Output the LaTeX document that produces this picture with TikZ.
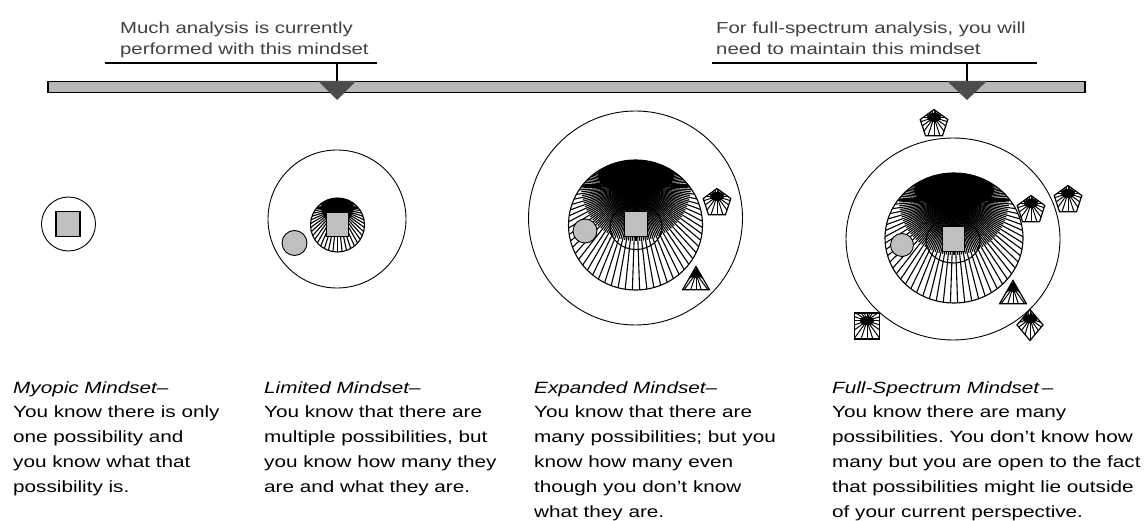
\documentclass[tikz,border=0pt]{standalone}
\usepackage{fontspec}
\newfontfamily\capfont[FakeStretch=1.27]{Liberation Sans}
\usetikzlibrary{shapes.geometric,calc}
% cx cy rx ry | convergence px py | dark ellipse rx ry | angle step ; dark ellipse centre y in \darky, dense-line length in \denselen
\newcommand{\darky}{0}
\newcommand{\denselen}{50}
\newcommand{\hatchdisc}[9]{%
  \begin{scope}
    \clip (#1,#2) ellipse [x radius=#3pt, y radius=#4pt];
    \fill[white] (#1,#2) ellipse [x radius=#3pt, y radius=#4pt];
    \foreach \a in {0,#9,...,359} \draw[line width=1.1pt] (#5,#6) -- ++(\a:170pt);
    \pgfmathsetmacro{\halfang}{#9/2}
    \pgfmathsetmacro{\nextang}{#9*1.5}
    \foreach \a in {\halfang,\nextang,...,359} \draw[line width=1.1pt] (#5,#6) -- ++(\a:\denselen pt);
    \fill[black] (#5,\darky) ellipse [x radius=#7pt, y radius=#8pt];
  \end{scope}
  \draw[line width=1.1pt] (#1,#2) ellipse [x radius=#3pt, y radius=#4pt];
}
\begin{document}
\begin{tikzpicture}[x=1pt,y=-1pt,
  topnote/.style={anchor=north west, inner sep=0, align=left, text=black!75,
    font=\capfont\fontsize{16}{21.5}\selectfont},
  caption/.style={anchor=north west, inner sep=0, align=left,
    font=\capfont\fontsize{16.3}{24.8}\selectfont\frenchspacing},
  rule/.style={line width=1.3pt},
  pointer/.style={fill=black!70, draw=none},
  barbox/.style={draw, line width=1.3pt, fill=black!28, rectangle, inner sep=0, outer sep=0},
  outerring/.style={draw, line width=0.9pt, ellipse, inner sep=0, outer sep=0},
  sq/.style={draw, line width=1.6pt, fill=black!25, rectangle, inner sep=0, outer sep=0},
  gcirc/.style={draw, line width=0.9pt, fill=black!25, circle, inner sep=0, outer sep=0},
  smallhatch/.style={draw, line width=1.2pt, fill=white, inner sep=0, outer sep=0,
    path picture={
      \coordinate (hp) at ($(path picture bounding box.north)!0.3!(path picture bounding box.south)$);
      \foreach \a in {0,18,...,342} \draw[black, line width=1pt] (hp) -- ++(\a:30pt);
      \fill[black] (hp) ellipse [x radius=7pt, y radius=4.5pt];
    }},
  pent/.style={smallhatch, regular polygon, regular polygon sides=5, minimum size=29pt},
  tri/.style={smallhatch, regular polygon, regular polygon sides=3, minimum size=31pt},
  dia/.style={smallhatch, diamond, minimum width=26pt, minimum height=31pt},
  sqh/.style={smallhatch, rectangle, minimum width=25pt, minimum height=26pt}
]
\useasboundingbox (0,0) rectangle (1146,521);

% top notes
\node[topnote] (noteL) at (120,21.3) {Much analysis is currently\\performed with this mindset};
\node[topnote] (noteR) at (716,21.3) {For full-spectrum analysis, you will\\need to maintain this mindset};

% bar
\node[barbox, minimum width=1037pt, minimum height=11pt] (bar) at (566.5,87) {};

% pointers
\coordinate (uLa) at (105,63); \coordinate (uLb) at (377,63);
\coordinate (uRa) at (712,63); \coordinate (uRb) at (1037,63);
\coordinate (pL) at (337,63); \coordinate (pR) at (967,63);
\coordinate (tL) at (337,81); \coordinate (tR) at (967,81);
\draw[rule] (uLa) -- (uLb);
\draw[rule] (uRa) -- (uRb);
\fill[pointer] ($(tL)+(-19,0)$) -- ($(tL)+(19,0)$) -- ($(tL)+(0,19)$) -- cycle;
\fill[pointer] ($(tR)+(-20,0)$) -- ($(tR)+(20,0)$) -- ($(tR)+(0,19)$) -- cycle;
\draw[rule] (pL) -- (tL);
\draw[rule] (pR) -- (tR);

% ---- Myopic
\node[outerring, minimum size=54pt] (o1) at (68.5,224) {};
\node[sq, minimum width=24pt, minimum height=25pt] (s1) at (68,224) {};

% ---- Limited
\node[outerring, minimum size=138pt] (o2) at (337,219) {};
\renewcommand{\darky}{202}\renewcommand{\denselen}{16}
\hatchdisc{337.5}{225}{27}{27}{337.5}{208}{18}{7}{6}
\node[gcirc, minimum size=25pt] (g2) at (294.5,243) {};
\node[sq, minimum width=22pt, minimum height=24pt] (s2) at (337.5,224.5) {};

% ---- Expanded
\node[outerring, minimum size=214pt] (o3) at (635.5,218) {};
\renewcommand{\darky}{176}\renewcommand{\denselen}{55}
\hatchdisc{635.5}{225}{67}{65}{636}{186}{38}{18}{4}
\draw[line width=1.1pt] (636,227) ellipse [x radius=26pt, y radius=22.5pt];
\node[gcirc, minimum size=24pt] (g3) at (585,231) {};
\node[sq, minimum width=23pt, minimum height=25pt] (s3) at (636,224) {};
\node[pent] (p3a) at (717,203) {};
\node[tri] (t3) at (696,282) {};

% ---- Full spectrum
\node[outerring, minimum width=214pt, minimum height=202pt] (o4) at (953,239) {};
\renewcommand{\darky}{190}\renewcommand{\denselen}{55}
\hatchdisc{954}{238}{69}{65}{954}{200}{40}{18}{4}
\draw[line width=1.1pt] (953,241) ellipse [x radius=27pt, y radius=22pt];
\node[gcirc, minimum size=23pt] (g4) at (902,245) {};
\node[sq, minimum width=22pt, minimum height=25pt] (s4) at (953.5,239) {};
\node[pent] (p4a) at (934,124) {};
\node[pent] (p4b) at (1031,210) {};
\node[pent] (p4c) at (1068,200) {};
\node[tri] (t4) at (1013,296) {};
\node[dia] (d4) at (1030,325) {};
\node[sqh] (q4) at (867,326) {};

% captions
\node[caption] (c1) at (13,381.1) {\textit{Myopic Mindset–}\\You know there is only\\one possibility and\\you know what that\\possibility is.};
\node[caption] (c2) at (264,381.1) {\textit{Limited Mindset–}\\You know that there are\\multiple possibilities, but\\you know how many they\\are and what they are.};
\node[caption] (c3) at (534,381.1) {\textit{Expanded Mindset–}\\You know that there are\\many possibilities; but you\\know how many even\\though you don’t know\\what they are.};
\node[caption] (c4) at (832,381.1) {\textit{Full-Spectrum Mindset\,–}\\You know there are many\\possibilities. You don’t know how\\many but you are open to the fact\\that possibilities might lie outside\\of your current perspective.};
\end{tikzpicture}
\end{document}
